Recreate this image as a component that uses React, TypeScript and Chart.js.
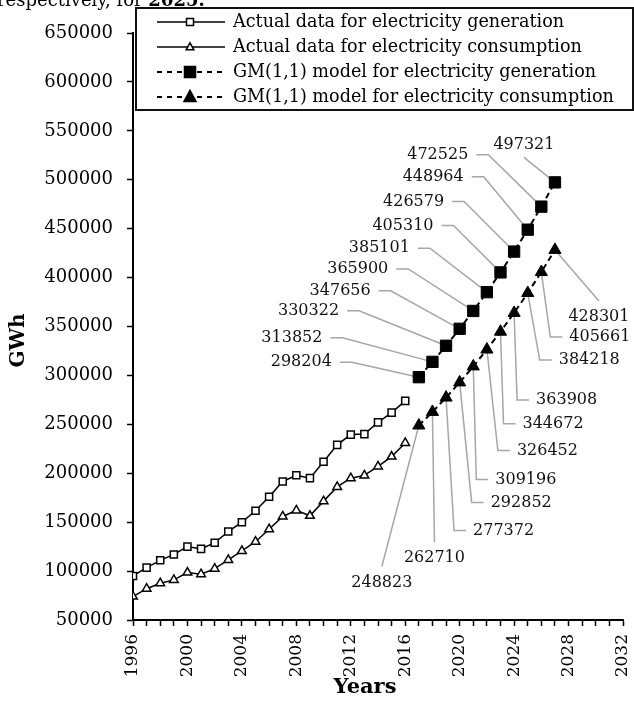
import React, { useEffect, useRef } from "react";
import { Chart, registerables } from "chart.js";

Chart.register(...registerables);

// ---------- data ----------
const actualYears = [1996, 1997, 1998, 1999, 2000, 2001, 2002, 2003, 2004, 2005, 2006, 2007, 2008, 2009, 2010, 2011, 2012, 2013, 2014, 2015, 2016];
const generationActual = [95000, 103500, 111000, 117000, 125000, 122700, 129000, 140400, 150000, 161600, 176000, 191600, 198000, 195000, 211700, 229000, 239500, 240000, 252000, 262000, 274000];
const consumptionActual = [73900, 82000, 87600, 91000, 98500, 96800, 102500, 111400, 120600, 130000, 142800, 155800, 162000, 156500, 171500, 186000, 195000, 197800, 207000, 217000, 231000];

const modelYears = [2017, 2018, 2019, 2020, 2021, 2022, 2023, 2024, 2025, 2026, 2027];
const generationModel = [298204, 313852, 330322, 347656, 365900, 385101, 405310, 426579, 448964, 472525, 497321];
const consumptionModel = [248823, 262710, 277372, 292852, 309196, 326452, 344672, 363908, 384218, 405661, 428301];

const seriesNames = [
  "Actual data for electricity generation",
  "Actual data for electricity consumption",
  "GM(1,1) model for electricity generation",
  "GM(1,1) model for electricity consumption",
];

const xMin = 1996;
const xMax = 2032;
const xLabelEvery = 4;
const yMin = 50000;
const yMax = 650000;
const yStep = 50000;

const yTitle = "GWh";
const xTitle = "Years";
const headText = "respectively, for ";
const headBold = "2025.";

// ---------- label placement (pixel offsets from each marker; styling only) ----------
type LabelSpec = { dx: number; dy: number; mode?: "above" | "below" };
const genLabelOffsets: LabelSpec[] = [
  { dx: -87, dy: -15 },
  { dx: -110, dy: -24 },
  { dx: -107, dy: -35 },
  { dx: -89, dy: -38 },
  { dx: -85, dy: -42 },
  { dx: -77, dy: -44 },
  { dx: -67, dy: -47 },
  { dx: -70, dy: -50 },
  { dx: -64, dy: -53 },
  { dx: -73, dy: -52 },
  { dx: -31, dy: -38, mode: "above" },
];
const consLabelOffsets: LabelSpec[] = [
  { dx: -37, dy: 157, mode: "below" },
  { dx: 2, dy: 146, mode: "below" },
  { dx: 27, dy: 133 },
  { dx: 31, dy: 120 },
  { dx: 22, dy: 113 },
  { dx: 30, dy: 101 },
  { dx: 22, dy: 92 },
  { dx: 22, dy: 87 },
  { dx: 31, dy: 67 },
  { dx: 28, dy: 65 },
  { dx: 44, dy: 67, mode: "below" },
];

const FONT = "'DejaVu Serif', serif";

function drawMarker(ctx: CanvasRenderingContext2D, kind: string, x: number, y: number, size: number, filled: boolean) {
  ctx.beginPath();
  if (kind === "rect") {
    ctx.rect(x - size / 2, y - size / 2, size, size);
  } else {
    const h = size;
    ctx.moveTo(x, y - h * 0.6);
    ctx.lineTo(x + h * 0.55, y + h * 0.4);
    ctx.lineTo(x - h * 0.55, y + h * 0.4);
    ctx.closePath();
  }
  ctx.fillStyle = filled ? "#000" : "#fff";
  ctx.fill();
  ctx.lineWidth = 1.5;
  ctx.strokeStyle = "#000";
  ctx.stroke();
}

const annotationPlugin = {
  id: "gmAnnotations",
  beforeDatasetsDraw(chart: any) {
    const ctx: CanvasRenderingContext2D = chart.ctx;
    ctx.save();
    ctx.font = `16px ${FONT}`;
    ctx.textBaseline = "middle";
    const drawSet = (dsIndex: number, values: number[], specs: LabelSpec[], side: "left" | "right") => {
      const meta = chart.getDatasetMeta(dsIndex);
      meta.data.forEach((pt: any, i: number) => {
        const { x, y } = pt.getProps(["x", "y"], true);
        const s = specs[i];
        const tx = x + s.dx;
        const ty = y + s.dy;
        ctx.beginPath();
        ctx.strokeStyle = "#a6a6a6";
        ctx.lineWidth = 1.5;
        if (s.mode === "above") {
          ctx.textAlign = "center";
          ctx.moveTo(tx, ty + 13);
          ctx.lineTo(x, y);
        } else if (s.mode === "below") {
          ctx.textAlign = "center";
          ctx.moveTo(tx, ty - 16);
          ctx.lineTo(x, y);
        } else if (side === "left") {
          ctx.textAlign = "right";
          ctx.moveTo(tx + 8, ty);
          ctx.lineTo(tx + 20, ty);
          ctx.lineTo(x, y);
        } else {
          ctx.textAlign = "left";
          ctx.moveTo(tx - 7, ty);
          ctx.lineTo(tx - 19, ty);
          ctx.lineTo(x, y);
        }
        ctx.stroke();
        ctx.fillStyle = "#111";
        ctx.fillText(String(values[i]), tx, ty);
      });
    };
    drawSet(2, generationModel, genLabelOffsets, "left");
    drawSet(3, consumptionModel, consLabelOffsets, "right");
    ctx.restore();
  },
  afterDraw(chart: any) {
    const ctx: CanvasRenderingContext2D = chart.ctx;
    const area = chart.chartArea;
    ctx.save();

    // clipped paragraph text from the page above
    ctx.textAlign = "left";
    ctx.textBaseline = "alphabetic";
    ctx.fillStyle = "#000";
    ctx.font = `18px ${FONT}`;
    ctx.fillText(headText, -3, 6);
    const w = ctx.measureText(headText).width;
    ctx.font = `bold 18px ${FONT}`;
    ctx.fillText(headBold, -3 + w, 6);

    // axis titles
    ctx.font = `bold 20px ${FONT}`;
    ctx.textAlign = "center";
    ctx.textBaseline = "middle";
    ctx.save();
    ctx.translate(19, (area.top + area.bottom) / 2 + 14);
    ctx.rotate(-Math.PI / 2);
    ctx.fillText(yTitle, 0, 0);
    ctx.restore();
    ctx.font = `bold 21px ${FONT}`;
    ctx.fillText(xTitle, (area.left + area.right) / 2 - 13, 688);

    // legend
    const x0 = area.left + 3;
    const y0 = 8;
    const x1 = 633;
    const y1 = 110;
    ctx.fillStyle = "#fff";
    ctx.fillRect(x0, y0, x1 - x0, y1 - y0);
    ctx.lineWidth = 2;
    ctx.strokeStyle = "#111";
    ctx.strokeRect(x0, y0, x1 - x0, y1 - y0);
    const kinds = ["rect", "triangle", "rect", "triangle"];
    seriesNames.forEach((name, i) => {
      const ry = y0 + 14 + i * 25;
      const lx0 = x0 + 21;
      const lx1 = x0 + 89;
      const mx = x0 + 54;
      const dashed = i >= 2;
      ctx.beginPath();
      ctx.setLineDash(dashed ? [5, 5] : []);
      ctx.lineWidth = dashed ? 2 : 1.5;
      ctx.strokeStyle = "#000";
      ctx.moveTo(lx0, ry);
      ctx.lineTo(lx1, ry);
      ctx.stroke();
      ctx.setLineDash([]);
      drawMarker(ctx, kinds[i], mx, ry, dashed ? 11 : 7, dashed);
      ctx.fillStyle = "#000";
      ctx.font = `17.6px ${FONT}`;
      ctx.textAlign = "left";
      ctx.textBaseline = "middle";
      ctx.fillText(name, x0 + 97, ry);
    });
    ctx.restore();
  },
};

export default function App() {
  const canvasRef = useRef<HTMLCanvasElement | null>(null);

  useEffect(() => {
    const canvas = canvasRef.current;
    if (!canvas) return;
    const toPts = (xs: number[], ys: number[]) => xs.map((x, i) => ({ x, y: ys[i] }));
    const chart = new Chart(canvas, {
      type: "line",
      data: {
        datasets: [
          {
            label: seriesNames[0],
            data: toPts(actualYears, generationActual),
            borderColor: "#000",
            borderWidth: 1.5,
            pointStyle: "rect",
            pointRadius: 5,
            pointBackgroundColor: "#fff",
            pointBorderColor: "#000",
            pointBorderWidth: 1.5,
          },
          {
            label: seriesNames[1],
            data: toPts(actualYears, consumptionActual),
            borderColor: "#000",
            borderWidth: 1.5,
            pointStyle: "triangle",
            pointRadius: 5,
            pointBackgroundColor: "#fff",
            pointBorderColor: "#000",
            pointBorderWidth: 1.5,
          },
          {
            label: seriesNames[2],
            data: toPts(modelYears, generationModel),
            borderColor: "#000",
            borderWidth: 2,
            borderDash: [6, 4],
            pointStyle: "rect",
            pointRadius: 8,
            pointBackgroundColor: "#000",
            pointBorderColor: "#000",
            pointBorderWidth: 1,
          },
          {
            label: seriesNames[3],
            data: toPts(modelYears, consumptionModel),
            borderColor: "#000",
            borderWidth: 2,
            borderDash: [6, 4],
            pointStyle: "triangle",
            pointRadius: 7,
            pointBackgroundColor: "#000",
            pointBorderColor: "#000",
            pointBorderWidth: 1,
          },
        ],
      },
      options: {
        animation: false,
        responsive: true,
        maintainAspectRatio: false,
        layout: { padding: { top: 33, right: 11, left: 0, bottom: 0 } },
        plugins: { legend: { display: false }, tooltip: { enabled: false } },
        scales: {
          x: {
            type: "linear",
            min: xMin,
            max: xMax,
            afterFit: (s: any) => {
              s.height = 81;
              s.paddingRight = 0;
              s.paddingLeft = 0;
            },
            ticks: {
              stepSize: 1,
              maxTicksLimit: 100,
              autoSkip: false,
              maxRotation: 90,
              minRotation: 90,
              padding: 8,
              color: "#000",
              font: { family: FONT, size: 17 },
              callback: (v: any) => (Number(v) % xLabelEvery === 0 ? String(v) : ""),
            },
            grid: { drawOnChartArea: false, drawTicks: true, tickLength: 6, tickColor: "#000", tickWidth: 1.5 },
            border: { color: "#000", width: 2 },
          },
          y: {
            min: yMin,
            max: yMax,
            afterFit: (s: any) => {
              s.width = 133;
              s.paddingTop = 0;
              s.paddingBottom = 0;
            },
            ticks: {
              stepSize: yStep,
              padding: 14,
              color: "#000",
              font: { family: FONT, size: 18 },
              callback: (v: any) => String(v),
            },
            grid: { drawOnChartArea: false, drawTicks: true, tickLength: 6, tickColor: "#000", tickWidth: 1.5 },
            border: { color: "#000", width: 2 },
          },
        },
      },
      plugins: [annotationPlugin],
    } as any);
    return () => chart.destroy();
  }, []);

  return (
    <div style={{ position: "absolute", left: 0, top: 0, width: 634, height: 701, background: "#fff" }}>
      <canvas ref={canvasRef} />
    </div>
  );
}
